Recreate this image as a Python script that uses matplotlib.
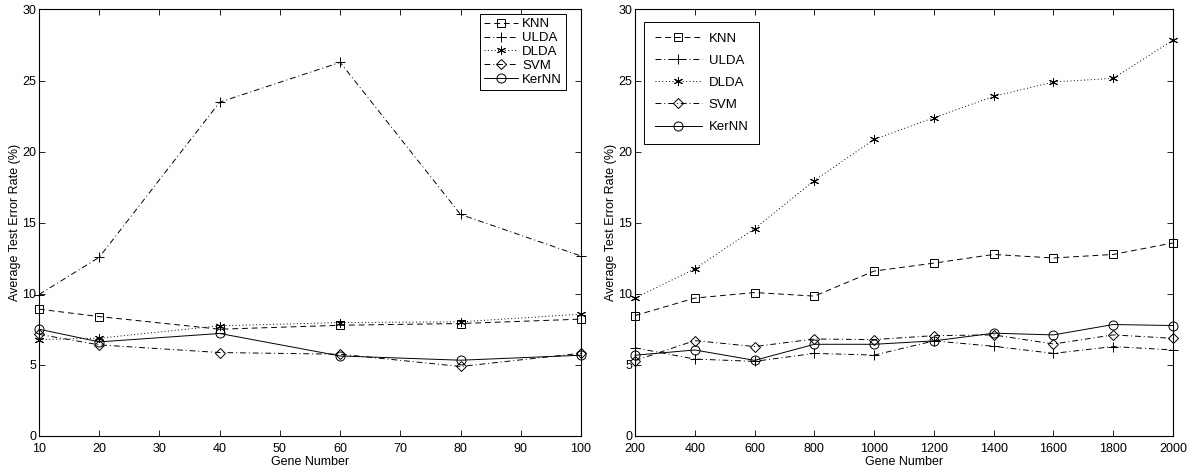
import matplotlib
matplotlib.use("Agg")
import matplotlib.pyplot as plt

plt.rcParams['font.family'] = ['Liberation Sans', 'DejaVu Sans']
plt.rcParams['font.size'] = 9

# left panel: gene numbers 10..100
genes_small = [10, 20, 40, 60, 80, 100]
knn_small = [8.92, 8.40, 7.51, 7.79, 7.91, 8.22]
ulda_small = [9.95, 12.57, 23.48, 26.28, 15.58, 12.66]
dlda_small = [6.78, 6.88, 7.75, 7.98, 8.03, 8.57]
svm_small = [7.15, 6.41, 5.87, 5.75, 4.89, 5.82]
kernn_small = [7.51, 6.62, 7.21, 5.63, 5.33, 5.68]

# right panel: gene numbers 200..2000
genes_large = [200, 400, 600, 800, 1000, 1200, 1400, 1600, 1800, 2000]
knn_large = [8.47, 9.70, 10.09, 9.84, 11.60, 12.16, 12.77, 12.52, 12.77, 13.58]
ulda_large = [6.20, 5.41, 5.25, 5.81, 5.69, 6.69, 6.31, 5.81, 6.29, 6.05]
dlda_large = [9.70, 11.76, 14.58, 17.97, 20.86, 22.39, 23.89, 24.90, 25.16, 27.84]
svm_large = [5.30, 6.71, 6.29, 6.82, 6.78, 7.06, 7.11, 6.47, 7.11, 6.87]
kernn_large = [5.68, 6.05, 5.32, 6.45, 6.45, 6.69, 7.23, 7.11, 7.84, 7.77]

method_names = ["KNN", "ULDA", "DLDA", "SVM", "KerNN"]
line_styles = [(0, (6, 4)), (0, (6, 3, 1, 3)), (0, (1, 2.5)), (0, (6, 3, 1, 3)), '-']
markers = ['s', '+', (6, 2, 0), 'D', 'o']
marker_sizes = [5.5, 7.5, 6.5, 5, 6.5]

fig = plt.figure(figsize=(12, 4.72), dpi=100)
ax1 = fig.add_axes([0.0325, 0.0763, 0.4517, 0.9036])
ax2 = fig.add_axes([0.5292, 0.0763, 0.4483, 0.9036])


def draw_panel(ax, x, series):
    for i, y in enumerate(series):
        ax.plot(x, y, color='black', lw=0.7, linestyle=line_styles[i],
                marker=markers[i], markersize=marker_sizes[i],
                markerfacecolor='none', markeredgecolor='black',
                markeredgewidth=0.7, label=method_names[i], clip_on=False)
    ax.set_ylim(0, 30)
    ax.set_yticks(range(0, 31, 5))
    ax.set_xlabel("Gene Number", labelpad=1)
    ax.set_ylabel("Average Test Error Rate (%)", labelpad=1)
    ax.tick_params(direction='in', length=4, width=0.6, top=True, right=True)
    ax.tick_params(axis='x', pad=5)
    ax.tick_params(axis='y', pad=2)
    for sp in ax.spines.values():
        sp.set_linewidth(0.8)


draw_panel(ax1, genes_small,
           [knn_small, ulda_small, dlda_small, svm_small, kernn_small])
ax1.set_xlim(10, 100)
ax1.set_xticks(range(10, 101, 10))
leg1 = ax1.legend(loc='upper right', bbox_to_anchor=(0.972, 0.989),
                  borderaxespad=0, fancybox=False, framealpha=1,
                  edgecolor='black', labelspacing=0.12, handlelength=2.6,
                  handletextpad=0.3, borderpad=0.3, fontsize=9.5)
leg1.get_frame().set_linewidth(0.7)

draw_panel(ax2, genes_large,
           [knn_large, ulda_large, dlda_large, svm_large, kernn_large])
ax2.set_xlim(200, 2000)
ax2.set_xticks(range(200, 2001, 200))
leg2 = ax2.legend(loc='upper left', bbox_to_anchor=(0.0167, 0.971),
                  borderaxespad=0, fancybox=False, framealpha=1,
                  edgecolor='black', labelspacing=0.75, handlelength=3.6,
                  handletextpad=0.5, borderpad=0.8, fontsize=9.5)
leg2.get_frame().set_linewidth(0.7)

fig.savefig("out.png", dpi=100)
